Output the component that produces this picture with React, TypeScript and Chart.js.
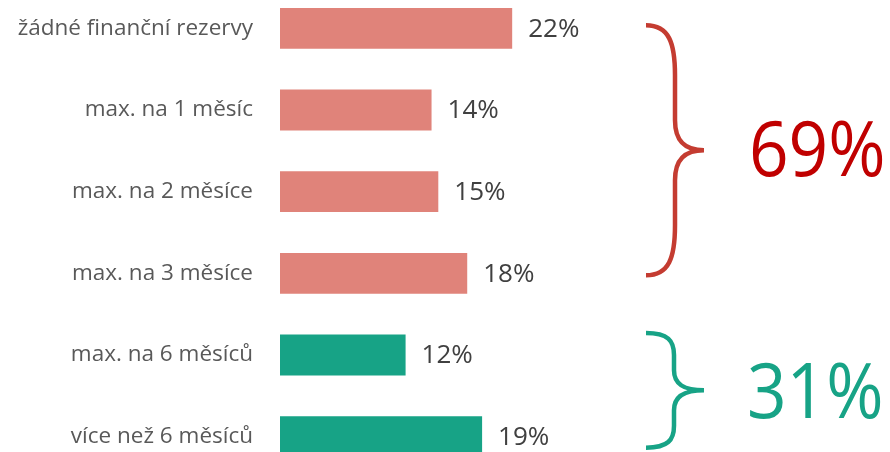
import React, { useEffect, useRef } from "react";
import { Chart, registerables } from "chart.js";

Chart.register(...registerables);

const categories = [
  "žádné finanční rezervy",
  "max. na 1 měsíc",
  "max. na 2 měsíce",
  "max. na 3 měsíce",
  "max. na 6 měsíců",
  "více než 6 měsíců",
];
const values = [22.0, 14.36, 15.0, 17.74, 11.9, 19.15];
const valueLabels = ["22%", "14%", "15%", "18%", "12%", "19%"];
const groupLabels = ["69%", "31%"];
const groupRanges = [
  [0, 3],
  [4, 5],
];

const RED_BAR = "#E0837A";
const GREEN = "#17A386";
const RED_BRACE = "#C43C31";
const RED_TEXT = "#C00000";
const FONT = "'Open Sans', 'Noto Sans', sans-serif";

function drawBrace(ctx: CanvasRenderingContext2D, x0: number, xs: number, xt: number, top: number, bottom: number, r1: number, r2: number) {
  const mid = (top + bottom) / 2;
  ctx.beginPath();
  ctx.moveTo(x0, top);
  ctx.bezierCurveTo(xs - 6, top, xs, top + r1 * 0.35, xs, top + r1);
  ctx.lineTo(xs, mid - r2);
  ctx.bezierCurveTo(xs, mid - r2 * 0.3, xs + 10, mid, xt, mid);
  ctx.bezierCurveTo(xs + 10, mid, xs, mid + r2 * 0.3, xs, mid + r2);
  ctx.lineTo(xs, bottom - r1);
  ctx.bezierCurveTo(xs, bottom - r1 * 0.35, xs - 6, bottom, x0, bottom);
  ctx.stroke();
}

const overlayPlugin = {
  id: "overlay",
  afterDatasetsDraw(chart: any) {
    const ctx = chart.ctx as CanvasRenderingContext2D;
    const meta = chart.getDatasetMeta(0);
    ctx.save();
    ctx.font = `26px ${FONT}`;
    ctx.fillStyle = "#404040";
    ctx.textAlign = "left";
    ctx.textBaseline = "middle";
    meta.data.forEach((el: any, i: number) => {
      ctx.fillText(valueLabels[i], el.x + 16, el.y + 1);
    });
    ctx.restore();

    const y = chart.scales.y;
    // braces
    ctx.save();
    ctx.lineWidth = 4.5;
    ctx.lineCap = "butt";
    const rTop = y.getPixelForValue(groupRanges[0][0]) - 3;
    const rBot = y.getPixelForValue(groupRanges[0][1]) + 2;
    ctx.strokeStyle = RED_BRACE;
    drawBrace(ctx, 646, 675, 704, rTop, rBot, 50, 30);
    const gTop = y.getPixelForValue(groupRanges[1][0]) - 22;
    const gBot = y.getPixelForValue(groupRanges[1][1]) + 11;
    ctx.strokeStyle = GREEN;
    drawBrace(ctx, 646, 674, 704, gTop, gBot, 22, 20);
    ctx.restore();

    // big group percentages
    const drawBig = (text: string, color: string, x: number, cy: number) => {
      ctx.save();
      ctx.font = `77px ${FONT}`;
      ctx.fillStyle = color;
      ctx.textAlign = "left";
      ctx.textBaseline = "alphabetic";
      ctx.translate(x, cy);
      ctx.scale(0.9, 1);
      ctx.fillText(text, 0, 27.5);
      ctx.restore();
    };
    drawBig(groupLabels[0], RED_TEXT, 749, (rTop + rBot) / 2 - 2);
    drawBig(groupLabels[1], GREEN, 747, (gTop + gBot) / 2);
  },
};

export default function App() {
  const ref = useRef<HTMLCanvasElement | null>(null);
  useEffect(() => {
    if (!ref.current) return;
    const chart = new Chart(ref.current, {
      type: "bar",
      data: {
        labels: categories,
        datasets: [
          {
            data: values,
            backgroundColor: values.map((_, i) => (i < 4 ? RED_BAR : GREEN)),
            borderWidth: 0,
            barPercentage: 0.5,
            categoryPercentage: 1,
          },
        ],
      },
      options: {
        indexAxis: "y",
        responsive: false,
        animation: false,
        layout: { padding: 0 },
        plugins: { legend: { display: false }, tooltip: { enabled: false } },
        scales: {
          x: { display: false, min: 0, max: 57.8 },
          y: {
            grid: {
              display: true,
              drawOnChartArea: false,
              drawTicks: true,
              tickLength: 27,
              color: "rgba(0,0,0,0)",
            },
            border: { display: false },
            ticks: {
              color: "#595959",
              font: { family: FONT, size: 22.5 },
              padding: 0,
            },
            afterFit: (s: any) => {
              s.width = 280;
            },
          },
        },
      },
      plugins: [overlayPlugin],
    } as any);
    return () => chart.destroy();
  }, []);
  return (
    <div style={{ position: "fixed", left: 0, top: 0, width: 890, height: 452, overflow: "hidden", background: "#fff" }}>
      <canvas
        ref={ref}
        width={890}
        height={517}
        style={{ position: "absolute", left: 0, top: -26, width: 890, height: 517 }}
      />
    </div>
  );
}
